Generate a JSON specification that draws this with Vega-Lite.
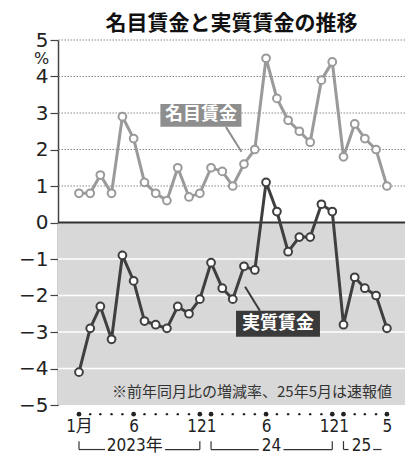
{
  "$schema": "https://vega.github.io/schema/vega-lite/v6.json",
  "width": 347,
  "height": 365,
  "autosize": "none",
  "padding": {"left": 58, "top": 40, "right": 12, "bottom": 61},
  "background": "white",
  "title": {
    "text": "名目賃金と実質賃金の推移",
    "font": "Noto Sans CJK JP",
    "fontSize": 21,
    "fontWeight": "bold",
    "color": "#111111",
    "anchor": "middle",
    "frame": "group",
    "offset": 6,
    "dy": 10
  },
  "config": {"view": {"stroke": null}, "font": "Noto Sans CJK JP", "axisY": {"labelOverlap": false}},
  "datasets": {
    "wages": [
      {"date": "2023-01-01", "nominal": 0.8, "real": -4.1},
      {"date": "2023-02-01", "nominal": 0.8, "real": -2.9},
      {"date": "2023-03-01", "nominal": 1.3, "real": -2.3},
      {"date": "2023-04-01", "nominal": 0.8, "real": -3.2},
      {"date": "2023-05-01", "nominal": 2.9, "real": -0.9},
      {"date": "2023-06-01", "nominal": 2.3, "real": -1.6},
      {"date": "2023-07-01", "nominal": 1.1, "real": -2.7},
      {"date": "2023-08-01", "nominal": 0.8, "real": -2.8},
      {"date": "2023-09-01", "nominal": 0.6, "real": -2.9},
      {"date": "2023-10-01", "nominal": 1.5, "real": -2.3},
      {"date": "2023-11-01", "nominal": 0.7, "real": -2.5},
      {"date": "2023-12-01", "nominal": 0.8, "real": -2.1},
      {"date": "2024-01-01", "nominal": 1.5, "real": -1.1},
      {"date": "2024-02-01", "nominal": 1.4, "real": -1.8},
      {"date": "2024-03-01", "nominal": 1.0, "real": -2.1},
      {"date": "2024-04-01", "nominal": 1.6, "real": -1.2},
      {"date": "2024-05-01", "nominal": 2.0, "real": -1.3},
      {"date": "2024-06-01", "nominal": 4.5, "real": 1.1},
      {"date": "2024-07-01", "nominal": 3.4, "real": 0.3},
      {"date": "2024-08-01", "nominal": 2.8, "real": -0.8},
      {"date": "2024-09-01", "nominal": 2.5, "real": -0.4},
      {"date": "2024-10-01", "nominal": 2.2, "real": -0.4},
      {"date": "2024-11-01", "nominal": 3.9, "real": 0.5},
      {"date": "2024-12-01", "nominal": 4.4, "real": 0.3},
      {"date": "2025-01-01", "nominal": 1.8, "real": -2.8},
      {"date": "2025-02-01", "nominal": 2.7, "real": -1.5},
      {"date": "2025-03-01", "nominal": 2.3, "real": -1.8},
      {"date": "2025-04-01", "nominal": 2.0, "real": -2.0},
      {"date": "2025-05-01", "nominal": 1.0, "real": -2.9}
    ]
  },
  "data": {"name": "wages"},
  "layer": [
    {
      "data": {"values": [{}]},
      "mark": {"type": "rect", "color": "#d8d8d8"},
      "encoding": {
        "x": {"datum": {"year": 2022, "month": 11, "date": 4, "utc": true}, "type": "temporal", "scale": {"type": "utc"}},
        "x2": {"datum": {"year": 2025, "month": 6, "date": 20, "utc": true}},
        "y": {"datum": 0, "type": "quantitative"},
        "y2": {"datum": -5}
      }
    },
    {
      "data": {"values": [{"v": 1}, {"v": 2}, {"v": 3}, {"v": 4}, {"v": 5}]},
      "mark": {"type": "rule", "color": "#8a8a8a", "strokeWidth": 1.2, "strokeDash": [1.5, 1.5]},
      "encoding": {"y": {"field": "v", "type": "quantitative"}}
    },
    {
      "data": {"values": [{"v": -1}, {"v": -2}, {"v": -3}, {"v": -4}]},
      "mark": {"type": "rule", "color": "#ffffff", "strokeWidth": 1.5},
      "encoding": {"y": {"field": "v", "type": "quantitative"}}
    },
    {
      "data": {"values": [{"v": 0}]},
      "mark": {"type": "rule", "color": "#333333", "strokeWidth": 2},
      "encoding": {"y": {"field": "v", "type": "quantitative"}}
    },
    {
      "mark": {
        "type": "line",
        "color": "#9a9a9a",
        "strokeWidth": 3,
        "point": {"filled": true, "fill": "white", "stroke": "#9a9a9a", "strokeWidth": 2, "size": 60, "opacity": 1}
      },
      "encoding": {
        "x": {
          "field": "date",
          "type": "temporal",
          "scale": {
            "type": "utc",
            "domain": [
              {"year": 2022, "month": 11, "date": 4, "utc": true},
              {"year": 2025, "month": 6, "date": 20, "utc": true}
            ]
          },
          "axis": {
            "title": null,
            "values": [
              {"year": 2023, "month": 1, "date": 1, "utc": true},
              {"year": 2023, "month": 6, "date": 1, "utc": true},
              {"year": 2023, "month": 11, "date": 22, "utc": true},
              {"year": 2024, "month": 1, "date": 1, "utc": true},
              {"year": 2024, "month": 6, "date": 1, "utc": true},
              {"year": 2024, "month": 11, "date": 22, "utc": true},
              {"year": 2025, "month": 1, "date": 1, "utc": true},
              {"year": 2025, "month": 5, "date": 1, "utc": true}
            ],
            "labelExpr": "(utcyear(datum.value) == 2023 && utcmonth(datum.value) == 0) ? '1月' : (utcmonth(datum.value) == 10 ? '12' : '' + (utcmonth(datum.value) + 1))",
            "domain": false,
            "ticks": false,
            "grid": false,
            "labelFont": "DejaVu Sans Condensed, Noto Sans CJK JP",
            "labelFontSize": 17,
            "labelColor": "#222222",
            "labelPadding": 13,
            "labelOverlap": false,
            "labelFlush": false
          }
        },
        "y": {
          "field": "nominal",
          "type": "quantitative",
          "scale": {"domain": [-5, 5]},
          "axis": {
            "title": "%",
            "titleAngle": 0,
            "titleX": -17,
            "titleY": 23,
            "titleAlign": "center",
            "titleBaseline": "alphabetic",
            "titleFont": "DejaVu Sans",
            "titleFontSize": 16,
            "titleFontWeight": "normal",
            "titleColor": "#222222",
            "values": [-5, -4, -3, -2, -1, 0, 1, 2, 3, 4, 5],
            "tickCount": 11,
            "grid": false,
            "domainColor": "#444444",
            "domainWidth": 1.5,
            "tickColor": "#444444",
            "tickSize": 8,
            "tickWidth": 1.2,
            "labelFont": "DejaVu Sans",
            "labelFontSize": 20,
            "labelColor": "#222222",
            "labelPadding": 2,
            "labelOverlap": false,
            "labelFlush": false
          }
        }
      }
    },
    {
      "mark": {
        "type": "line",
        "color": "#3f3f3f",
        "strokeWidth": 3,
        "point": {"filled": true, "fill": "white", "stroke": "#3f3f3f", "strokeWidth": 2, "size": 60, "opacity": 1}
      },
      "encoding": {
        "x": {"field": "date", "type": "temporal", "scale": {"type": "utc"}},
        "y": {"field": "real", "type": "quantitative"}
      }
    },
    {
      "data": {"values": [{}]},
      "mark": {"type": "rule", "color": "#8e8e8e", "strokeWidth": 2},
      "encoding": {
        "x": {"datum": {"year": 2024, "month": 2, "date": 11, "utc": true}, "type": "temporal", "scale": {"type": "utc"}},
        "x2": {"datum": {"year": 2024, "month": 3, "date": 25, "utc": true}},
        "y": {"datum": 2.62, "type": "quantitative"},
        "y2": {"datum": 1.94}
      }
    },
    {
      "data": {"values": [{}]},
      "mark": {"type": "rect", "color": "#8e8e8e"},
      "encoding": {
        "x": {"datum": {"year": 2023, "month": 8, "date": 14, "utc": true}, "type": "temporal", "scale": {"type": "utc"}},
        "x2": {"datum": {"year": 2024, "month": 3, "date": 25, "utc": true}},
        "y": {"datum": 3.25, "type": "quantitative"},
        "y2": {"datum": 2.62}
      }
    },
    {
      "data": {"values": [{"label": "名目賃金"}]},
      "mark": {"type": "text", "color": "white", "font": "Noto Sans CJK JP", "fontSize": 18, "fontWeight": "bold", "align": "center", "baseline": "middle"},
      "encoding": {
        "x": {"datum": {"year": 2023, "month": 12, "date": 4, "utc": true}, "type": "temporal", "scale": {"type": "utc"}},
        "y": {"datum": 2.94, "type": "quantitative"},
        "text": {"field": "label"}
      }
    },
    {
      "data": {"values": [{}]},
      "mark": {"type": "rule", "color": "#3a3a3a", "strokeWidth": 2},
      "encoding": {
        "x": {"datum": {"year": 2024, "month": 4, "date": 4, "utc": true}, "type": "temporal", "scale": {"type": "utc"}},
        "x2": {"datum": {"year": 2024, "month": 5, "date": 15, "utc": true}},
        "y": {"datum": -1.76, "type": "quantitative"},
        "y2": {"datum": -2.42}
      }
    },
    {
      "data": {"values": [{}]},
      "mark": {"type": "rect", "color": "#3a3a3a"},
      "encoding": {
        "x": {"datum": {"year": 2024, "month": 3, "date": 10, "utc": true}, "type": "temporal", "scale": {"type": "utc"}},
        "x2": {"datum": {"year": 2024, "month": 10, "date": 28, "utc": true}},
        "y": {"datum": -2.42, "type": "quantitative"},
        "y2": {"datum": -3.13}
      }
    },
    {
      "data": {"values": [{"label": "実質賃金"}]},
      "mark": {"type": "text", "color": "white", "font": "Noto Sans CJK JP", "fontSize": 18, "fontWeight": "bold", "align": "center", "baseline": "middle"},
      "encoding": {
        "x": {"datum": {"year": 2024, "month": 7, "date": 4, "utc": true}, "type": "temporal", "scale": {"type": "utc"}},
        "y": {"datum": -2.77, "type": "quantitative"},
        "text": {"field": "label"}
      }
    },
    {
      "data": {"values": [{"note": "※前年同月比の増減率、25年5月は速報値"}]},
      "mark": {"type": "text", "color": "#333333", "font": "Noto Sans CJK JP", "fontSize": 15, "align": "right", "baseline": "alphabetic"},
      "encoding": {
        "x": {"datum": {"year": 2025, "month": 5, "date": 15, "utc": true}, "type": "temporal", "scale": {"type": "utc"}},
        "y": {"datum": -4.78, "type": "quantitative"},
        "text": {"field": "note"}
      }
    },
    {
      "mark": {"type": "point", "filled": true, "color": "#222222", "opacity": 1},
      "encoding": {
        "x": {"field": "date", "type": "temporal", "scale": {"type": "utc"}},
        "y": {"datum": -5.25, "type": "quantitative"},
        "size": {
          "condition": {
            "test": "utcmonth(datum.date) == 0 || utcmonth(datum.date) == 5 || utcmonth(datum.date) == 11 || (utcyear(datum.date) == 2025 && utcmonth(datum.date) == 4)",
            "value": 22
          },
          "value": 6
        }
      }
    },
    {
      "data": {"values": [
        {"from": "2023-01-01", "to": "2023-03-14"},
        {"from": "2023-08-27", "to": "2023-12-01"},
        {"from": "2024-01-01", "to": "2024-05-12"},
        {"from": "2024-07-19", "to": "2024-12-01"},
        {"from": "2025-01-01", "to": "2025-01-15"},
        {"from": "2025-03-24", "to": "2025-04-16"}
      ]},
      "mark": {"type": "rule", "color": "#333333", "strokeWidth": 1.2},
      "encoding": {
        "x": {"field": "from", "type": "temporal", "scale": {"type": "utc"}},
        "x2": {"field": "to"},
        "y": {"datum": -6.22, "type": "quantitative"}
      }
    },
    {
      "data": {"values": [
        {"d": "2023-01-01"}, {"d": "2023-12-01"}, {"d": "2024-01-01"}, {"d": "2024-12-01"}, {"d": "2025-01-01"}
      ]},
      "mark": {"type": "rule", "color": "#333333", "strokeWidth": 1.2},
      "encoding": {
        "x": {"field": "d", "type": "temporal", "scale": {"type": "utc"}},
        "y": {"datum": -5.99, "type": "quantitative"},
        "y2": {"datum": -6.22}
      }
    },
    {
      "data": {"values": [
        {"d": "2023-06-04", "t": "2023年"},
        {"d": "2024-06-16", "t": "24"},
        {"d": "2025-02-20", "t": "25"}
      ]},
      "mark": {"type": "text", "color": "#222222", "font": "DejaVu Sans Condensed, Noto Sans CJK JP", "fontSize": 17, "align": "center", "baseline": "alphabetic"},
      "encoding": {
        "x": {"field": "d", "type": "temporal", "scale": {"type": "utc"}},
        "y": {"datum": -6.27, "type": "quantitative"},
        "text": {"field": "t"}
      }
    }
  ]
}
